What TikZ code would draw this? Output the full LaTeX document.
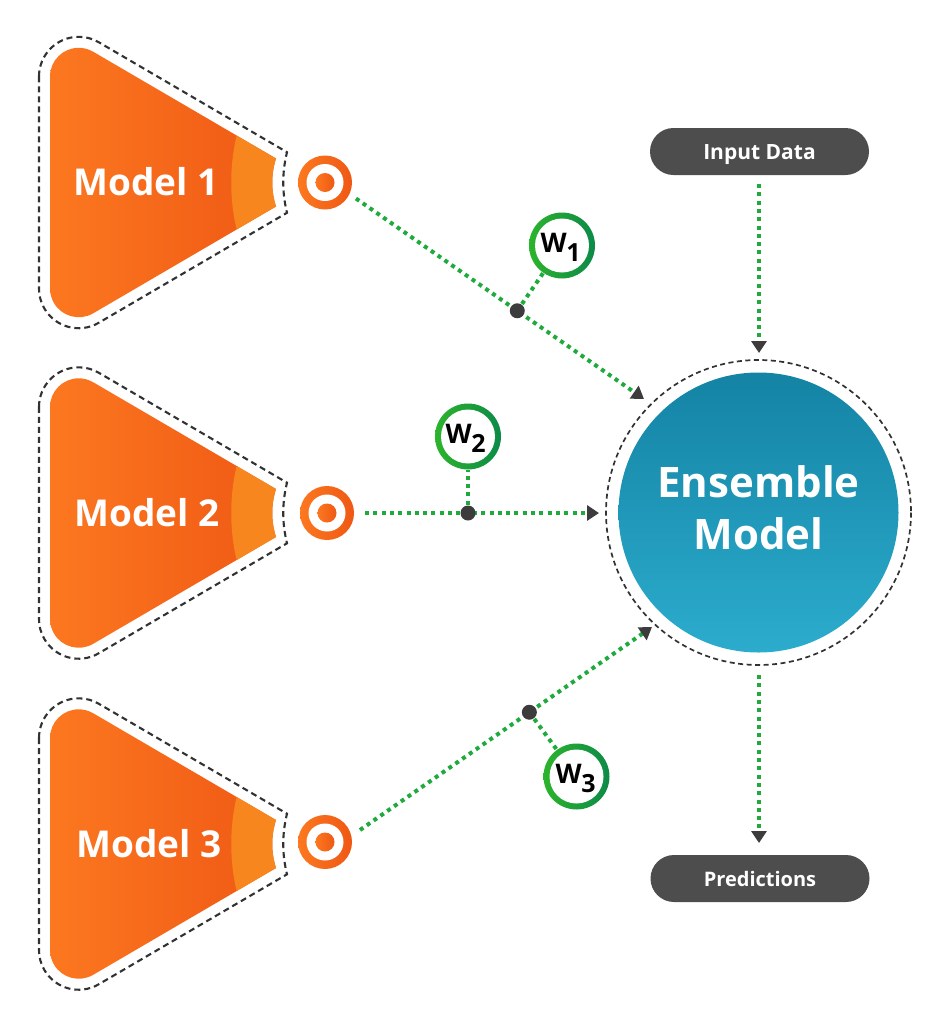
\documentclass[tikz,border=0pt]{standalone}
\usepackage{fontspec}
\setmainfont{Open Sans}
\usetikzlibrary{arrows.meta,calc}
\definecolor{orA}{RGB}{252,120,32}
\definecolor{orB}{RGB}{239,88,20}
\definecolor{orBand}{RGB}{247,134,30}
\definecolor{teA}{RGB}{20,131,164}
\definecolor{teB}{RGB}{44,172,205}
\definecolor{grn}{RGB}{30,170,60}
\definecolor{grA}{RGB}{44,180,44}
\definecolor{grB}{RGB}{12,138,72}
\definecolor{dk}{RGB}{60,60,60}
\definecolor{pillc}{RGB}{77,77,77}
\definecolor{dashc}{RGB}{50,50,50}
\newcommand\trifill{(50,-106) arc[start angle=180,end angle=300.3,radius=28.7] -- (276,-24) .. controls (271,-8) and (271,8) .. (276,24) -- (93.2,130.8) arc[start angle=59.7,end angle=180,radius=28.7] -- cycle}
\newcommand\trioutl{(39,-106) arc[start angle=180,end angle=300.3,radius=39.7] -- (287,-30.3) .. controls (282,-10) and (282,10) .. (287,30.3) -- (98.7,140.3) arc[start angle=59.7,end angle=180,radius=39.7] -- cycle}
\newcommand\trimodel[1]{%
  \begin{scope}[shift={(0,#1)}]
    \shade[left color=orA,right color=orB] \trifill;
    \begin{scope}
      \clip \trifill;
      \fill[orBand] (238,-52) .. controls (229,-20) and (229,20) .. (238,52) -- (300,52) -- (300,-52) -- cycle;
    \end{scope}
    \draw[outl] \trioutl;
  \end{scope}}
\newcommand\targetring[1]{%
  \shade[left color=orA,right color=orB] (#1) circle (27);
  \fill[white] (#1) circle (18.5);
  \shade[left color=orA,right color=orB] (#1) circle (9.5);}
\newcommand\wring[1]{%
  \shade[left color=grA,right color=grB] (#1) circle (33);
  \fill[white] (#1) circle (27);}
\begin{document}
\begin{tikzpicture}[x=1pt,y=-1pt,
  flow/.style={draw=grn, line width=4pt, dash pattern=on 4pt off 4.3pt},
  arr/.style={flow, -{Triangle[length=12pt,width=15pt,color=dk]}},
  outl/.style={draw=dashc, line width=2.1pt, dash pattern=on 6pt off 4pt},
  pill/.style={fill=pillc, rounded corners=23.5pt, minimum width=219pt, minimum height=47pt, text=white, font=\fontsize{21}{21}\selectfont\bfseries, text height=15pt, text depth=0pt, inner sep=0pt},
  jdot/.style={circle, fill=dk, minimum size=15pt, inner sep=0pt},
  wnode/.style={circle, minimum size=66pt, inner sep=0pt},
  wtxt/.style={font=\fontsize{27}{27}\selectfont\bfseries, text=black, inner sep=0pt, anchor=base west},
  mtxt/.style={font=\fontsize{37}{37}\selectfont\bfseries, text=white, inner sep=0pt, anchor=base},
  etxt/.style={font=\fontsize{42}{42}\selectfont\bfseries, text=white, inner sep=0pt, anchor=base}]
\useasboundingbox (0,0) rectangle (951,1026);

% models
\trimodel{182.5}
\trimodel{513}
\trimodel{844}
\node[mtxt] (m1) at (146,195) {Model 1};
\node[mtxt] (m2) at (147,526) {Model 2};
\node[mtxt] (m3) at (149,857) {Model 3};

% targets
\coordinate (t1) at (325,182.5);
\coordinate (t2) at (327,513);
\coordinate (t3) at (325,842);
\targetring{t1}
\targetring{t2}
\targetring{t3}

% ensemble
\node[circle, minimum size=280pt, inner sep=0pt, top color=teA, bottom color=teB] (ens) at (758.5,512.5) {};
\draw[outl, line width=1.7pt, dash pattern=on 5pt off 3.5pt] (ens.center) circle (152.5);
\node[etxt] (e1) at (758.5,497) {Ensemble};
\node[etxt] (e2) at (758.5,549) {Model};

% pills
\node[pill] (inp) at (759.5,151.5) {Input Data};
\node[pill, font=\fontsize{20}{20}\selectfont\bfseries] (pred) at (760,878.5) {Predictions};

% connector endpoints
\coordinate (s1) at (356,198.5);
\coordinate (a1) at (644,399);
\coordinate (s2) at (365,513);
\coordinate (a2) at (599,513);
\coordinate (s3) at (360,830);
\coordinate (a3) at (652,627);
\coordinate (ia) at (759,184);
\coordinate (ib) at (759,353);
\coordinate (pa) at (759,675);
\coordinate (pb) at (759,843);

% W nodes
\node[wnode] (w1) at (562,245.5) {};
\node[wnode] (w2) at (468,436.5) {};
\node[wnode] (w3) at (576.5,776.5) {};

% dots on lines
\path (s1) -- (a1) coordinate[pos=0.56] (d1p);
\path (s3) -- (a3) coordinate[pos=0.58] (d3p);
\coordinate (d2p) at (468,513);

% lines
\draw[arr] (s1) -- (a1);
\draw[arr] (s2) -- (a2);
\draw[arr] (s3) -- (a3);
\draw[arr] (ia) -- (ib);
\draw[arr] (pa) -- (pb);
\draw[flow] (d1p) -- (w1);
\draw[flow] (d2p) -- (w2);
\draw[flow] (d3p) -- (w3);

\node[jdot] (d1) at (d1p) {};
\node[jdot] (d2) at (d2p) {};
\node[jdot] (d3) at (d3p) {};

% W rings and labels
\wring{w1}
\wring{w2}
\wring{w3}
\node[wtxt] (l1) at (540.5,252) {W\kern-0.5pt\raisebox{-9pt}{\fontsize{25}{25}\selectfont 1}};
\node[wtxt] (l2) at (445.5,443.5) {W\kern-0.5pt\raisebox{-9pt}{\fontsize{25}{25}\selectfont 2}};
\node[wtxt] (l3) at (555.5,783.5) {W\kern-0.5pt\raisebox{-9pt}{\fontsize{25}{25}\selectfont 3}};
\end{tikzpicture}
\end{document}
